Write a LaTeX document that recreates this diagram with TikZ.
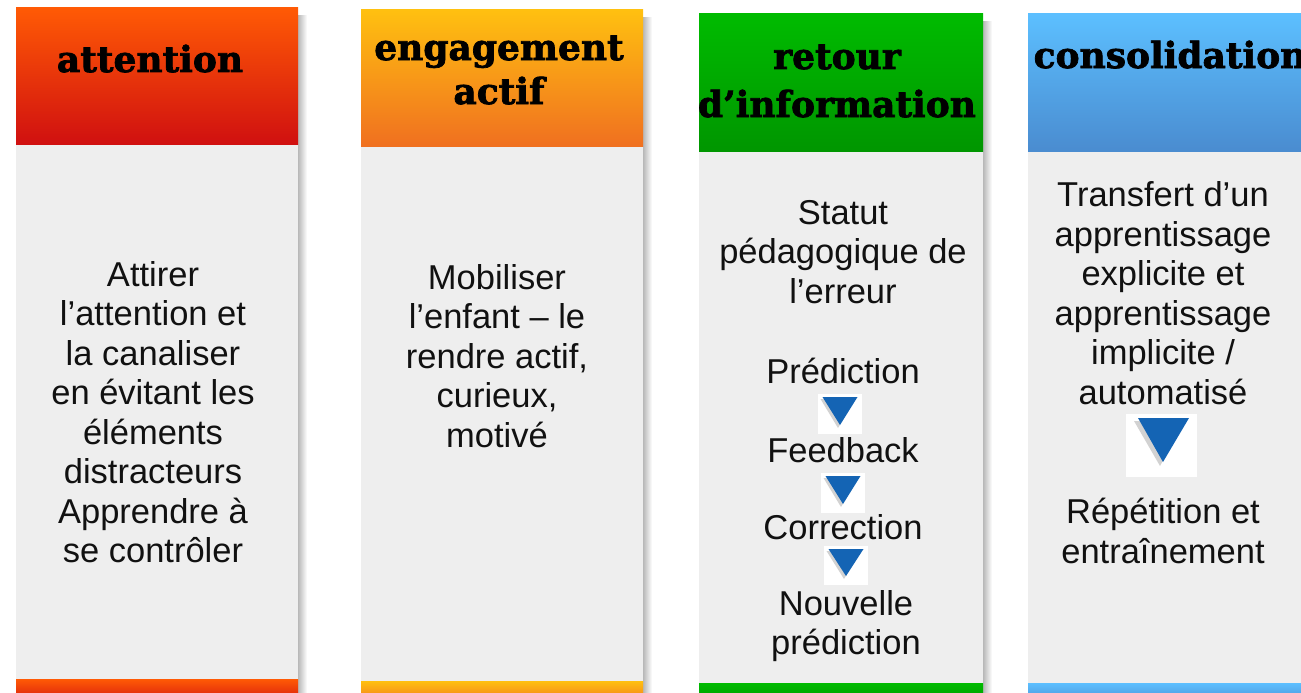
\documentclass[tikz,border=0pt]{standalone}
\usepackage{fontspec}
\setmainfont{Liberation Sans}
\newfontfamily\hdfont{DejaVu Serif}[BoldFeatures={FakeBold=2}]
\definecolor{bodygray}{HTML}{EEEEEE}
\definecolor{txt}{HTML}{111111}
\definecolor{aTop}{HTML}{FF5A05}\definecolor{aBot}{HTML}{D01010}
\definecolor{eTop}{HTML}{FFC010}\definecolor{eBot}{HTML}{F07020}
\definecolor{rTop}{HTML}{00BB00}\definecolor{rBot}{HTML}{009600}
\definecolor{cTop}{HTML}{5CBFFF}\definecolor{cBot}{HTML}{4A8CD0}
\definecolor{arrowblue}{HTML}{1464B4}
\newcommand\mkcol[7]{%
  \shade[left color=black!28,right color=white] (#2,#3+8) rectangle (#2+9,700);
  \fill[bodygray] (#1,#4) rectangle (#2,700);
  \shade[top color=#6,bottom color=#7] (#1,#3) rectangle (#2,#4);
  \shade[top color=#6,bottom color=#7] (#1,#5) rectangle (#2,705);
}
\newcommand\mkarrow[5]{% cx, top y, width, height, square half-size
  \fill[white] (#1-#5,#2-3) rectangle (#1+#5,#2+#4+9);
  \fill[black!35,opacity=0.5] (#1-#3/2-2,#2+2) -- (#1+#3/2-2,#2+2) -- (#1-2,#2+#4+3) -- cycle;
  \fill[arrowblue] (#1-#3/2,#2) -- (#1+#3/2,#2) -- (#1,#2+#4) -- cycle;
}
\tikzset{
  bodytxt/.style={text=txt,align=center,inner sep=0pt,font=\fontsize{34.5}{39.5}\selectfont},
  hdtxt/.style={text=black,anchor=base,inner sep=0pt,font=\hdfont\bfseries\fontsize{36}{40}\selectfont}
}
\begin{document}
\begin{tikzpicture}[x=1pt,y=-1pt]
\useasboundingbox (0,0) rectangle (1301,693);
\clip (0,0) rectangle (1301,693);
\fill[white] (0,0) rectangle (1301,693);
\mkcol{16}{298}{8}{144}{679}{aTop}{aBot}
\mkcol{361}{643}{10}{146}{681}{eTop}{eBot}
\mkcol{699}{983}{14}{151}{683}{rTop}{rBot}
\mkcol{1028}{1313}{14}{151}{683}{cTop}{cBot}
% headers
\node[hdtxt] (h1) at (150,72) {attention};
\node[hdtxt] (h2a) at (499,60) {engagement};
\node[hdtxt] (h2b) at (499,104) {actif};
\node[hdtxt] (h3a) at (837,69) {retour};
\node[hdtxt] (h3b) at (837,117) {d’information};
\node[hdtxt] (h4) at (1170,68) {consolidation};
% body texts
\node[bodytxt] (b1) at (153,412) {Attirer\\l’attention et\\la canaliser\\en évitant les\\éléments\\distracteurs\\Apprendre à\\se contrôler};
\node[bodytxt] (b2) at (497,356) {Mobiliser\\l’enfant – le\\rendre actif,\\curieux,\\motivé};
\node[bodytxt] (b3) at (843,252) {Statut\\pédagogique de\\l’erreur};
\node[bodytxt] (p1) at (843,371) {Prédiction};
\node[bodytxt] (p2) at (843,450) {Feedback};
\node[bodytxt] (p3) at (843,527) {Correction};
\node[bodytxt] (p4) at (846,626) {Nouvelle\\prédiction};
\node[bodytxt] (b4) at (1163,293) {Transfert d’un\\apprentissage\\explicite et\\apprentissage\\implicite /\\automatisé};
\node[bodytxt] (b5) at (1163,531) {Répétition et\\entraînement};
% arrows
\mkarrow{840}{397}{35}{28}{22}
\mkarrow{843}{476}{35}{28}{22}
\mkarrow{846}{549}{35}{27}{22}
\fill[white] (1126,414) rectangle (1197,477);
\fill[black!35,opacity=0.5] (1134,421) -- (1185,421) -- (1160,466) -- cycle;
\fill[arrowblue] (1138,418) -- (1189,418) -- (1163,462) -- cycle;
\end{tikzpicture}
\end{document}
